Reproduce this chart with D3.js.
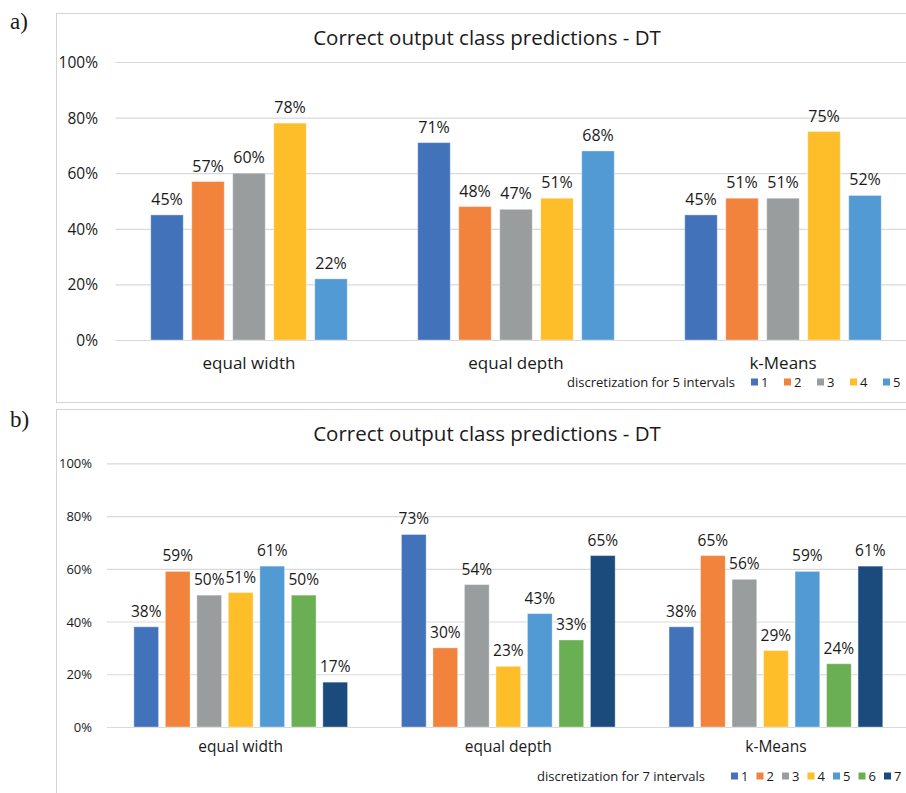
<!DOCTYPE html>
<html>
<head>
<meta charset="utf-8">
<script src="https://cdn.jsdelivr.net/npm/d3@7"></script>
<style>
  html, body { margin: 0; padding: 0; background: #fff; }
  svg { display: block; }
  text { font-family: "Open Sans", "Noto Sans", sans-serif; fill: #1a1a1a; }
</style>
</head>
<body>
<svg id="chart" width="906" height="793"></svg>
<script>
// Discretization methods (categories)
const methods = ["equal width", "equal depth", "k-Means"];

// Panel a: 5 intervals, correct predictions in %
const seriesA = ["1", "2", "3", "4", "5"];
const valuesA = [
  [45, 57, 60, 78, 22],   // equal width
  [71, 48, 47, 51, 68],   // equal depth
  [45, 51, 51, 75, 52]    // k-Means
];

// Panel b: 7 intervals, correct predictions in %
const seriesB = ["1", "2", "3", "4", "5", "6", "7"];
const valuesB = [
  [38, 59, 50, 51, 61, 50, 17],
  [73, 30, 54, 23, 43, 33, 65],
  [38, 65, 56, 29, 59, 24, 61]
];

const yTicks = [0, 20, 40, 60, 80, 100];
const palette = ["#4272BA", "#F1833D", "#9A9D9E", "#FDBE29", "#519AD4", "#6BAF55", "#1B4A7C"];
const chartTitle = "Correct output class predictions - DT";

const svg = d3.select("#chart");

function drawPanel(p) {
  const g = svg.append("g");

  // chart frame
  g.append("rect")
    .attr("x", p.box[0] + 0.5).attr("y", p.box[1] + 0.5)
    .attr("width", p.box[2]).attr("height", p.box[3])
    .attr("fill", "#fff").attr("stroke", "#d4d4d4").attr("stroke-width", 1);

  // panel letter
  g.append("text")
    .attr("x", 10).attr("y", p.letterY)
    .style("font-family", "'Liberation Serif', 'DejaVu Serif', serif")
    .style("font-size", "23px")
    .text(p.letter);

  const y = d3.scaleLinear().domain([0, 100]).range(p.yRange);
  const x0 = d3.scaleBand().domain(methods).range(p.xRange).padding(0);
  const inner = p.step * p.series.length - p.gap;
  const x1 = d3.scaleBand().domain(p.series)
    .range([(x0.bandwidth() - inner) / 2, (x0.bandwidth() + inner) / 2])
    .paddingInner(p.gap / p.step).paddingOuter(0);
  const color = d3.scaleOrdinal().domain(p.series).range(palette);

  // gridlines
  const axisY = d3.axisLeft(y).tickValues(yTicks)
    .tickSize(-(p.xRange[1] - p.xRange[0]))
    .tickFormat(d => d + "%");
  const ga = g.append("g")
    .attr("transform", `translate(${p.xRange[0]},0)`)
    .call(axisY);
  ga.select(".domain").remove();
  ga.selectAll(".tick line").attr("stroke", "#d9d9d9").attr("stroke-width", 1.2);
  ga.selectAll(".tick text")
    .attr("x", p.yLabelRight - p.xRange[0])
    .attr("dy", "0.35em")
    .style("font-size", p.yFont + "px")
    .style("font-family", "'Open Sans', sans-serif")
    .attr("fill", "#1a1a1a");

  // bars
  const groups = g.selectAll(".grp").data(methods).join("g")
    .attr("transform", d => `translate(${x0(d)},0)`);
  groups.each(function (m, mi) {
    const rows = p.series.map((s, si) => ({ s, v: p.values[mi][si] }));
    const sel = d3.select(this);
    sel.selectAll("rect").data(rows).join("rect")
      .attr("x", d => x1(d.s))
      .attr("y", d => y(d.v))
      .attr("width", x1.bandwidth())
      .attr("height", d => y(0) - y(d.v))
      .attr("fill", d => color(d.s))
      .attr("stroke", "#ffffff").attr("stroke-opacity", 0.35).attr("stroke-width", 1);
    sel.selectAll("text.lbl").data(rows).join("text")
      .attr("class", "lbl")
      .attr("x", d => x1(d.s) + x1.bandwidth() / 2)
      .attr("y", d => y(d.v) - p.labelGap)
      .attr("text-anchor", "middle")
      .style("font-size", p.labelFont + "px")
      .text(d => d.v + "%");
  });

  // category labels
  g.selectAll(".cat").data(methods).join("text")
    .attr("x", d => x0(d) + x0.bandwidth() / 2)
    .attr("y", p.catY)
    .attr("text-anchor", "middle")
    .style("font-size", p.catFont + "px")
    .text(d => d);

  // title
  g.append("text")
    .attr("x", p.titleX).attr("y", p.titleY)
    .attr("text-anchor", "middle")
    .style("font-size", p.titleFont + "px")
    .text(chartTitle);

  // legend
  g.append("text")
    .attr("x", p.legendTextRight).attr("y", p.legendY)
    .attr("dy", "0.35em")
    .attr("text-anchor", "end")
    .style("font-size", p.legendFont + "px")
    .text(p.legendTitle);
  const items = g.selectAll(".leg").data(p.series).join("g")
    .attr("transform", (d, i) => `translate(${p.legendX + i * p.legendStep},${p.legendY})`);
  items.append("rect")
    .attr("x", 0).attr("y", -3.5).attr("width", 7).attr("height", 7)
    .attr("fill", d => color(d));
  items.append("text")
    .attr("x", 10).attr("dy", "0.35em")
    .style("font-size", p.legendFont + "px")
    .text(d => d);
}

drawPanel({
  letter: "a)", letterY: 29,
  box: [56, 13, 900, 389],
  series: seriesA, values: valuesA,
  xRange: [115.5, 916.5], yRange: [340, 62],
  step: 41, gap: 8.5,
  yLabelRight: 98, yFont: 15.5,
  labelGap: 10, labelFont: 16,
  catY: 369, catFont: 17,
  titleX: 487, titleY: 45, titleFont: 20.5,
  legendTitle: "discretization for 5 intervals",
  legendTextRight: 735, legendY: 382, legendX: 751, legendStep: 33, legendFont: 13
});

drawPanel({
  letter: "b)", letterY: 427,
  box: [56, 409, 900, 400],
  series: seriesB, values: valuesB,
  xRange: [106.9, 909.7], yRange: [727, 463.3],
  step: 31.5, gap: 6.8,
  yLabelRight: 92, yFont: 13,
  labelGap: 10, labelFont: 15.5,
  catY: 752, catFont: 15.5,
  titleX: 487, titleY: 441, titleFont: 20.5,
  legendTitle: "discretization for 7 intervals",
  legendTextRight: 705, legendY: 776, legendX: 731, legendStep: 25.5, legendFont: 13
});
</script>
</body>
</html>
